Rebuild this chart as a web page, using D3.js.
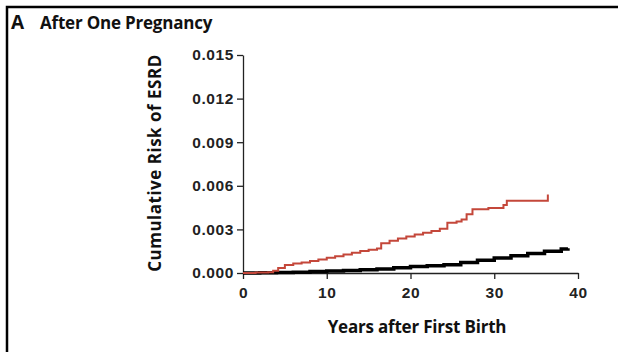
<!DOCTYPE html>
<html>
<head>
<meta charset="utf-8">
<script src="https://cdn.jsdelivr.net/npm/d3@7"></script>
<style>
  body { margin: 0; background: #fff; }
  svg { display: block; font-family: "Open Sans", Lato, sans-serif; }
  .tick text { font-size: 15.5px; font-weight: 600; fill: #222; letter-spacing: 0.6px; }
  .axis path, .axis line { stroke: #222; stroke-width: 1.3; }
</style>
</head>
<body>
<svg id="chart"></svg>
<script>
// tick labels
const yTicks = [0, 0.003, 0.006, 0.009, 0.012, 0.015];
const xTicks = [0, 10, 20, 30, 40];

// cumulative risk, one-pregnancy women (step curve, red)
const onePregYears = [0, 1.5, 3, 3.6, 4.2, 5, 6, 7, 8, 9, 10, 11, 12, 13, 14, 15, 16, 16.5, 17.5, 18.5, 19.5, 20.5, 21.5, 22.5, 23.5, 24.4, 25.5, 26.1, 26.7, 27.4, 29.3, 31.1, 31.5, 36.4];
const onePregRisk  = [0, 0.00003, 0.00006, 0.00015, 0.00035, 0.00055, 0.00065, 0.00073, 0.00082, 0.00093, 0.00105, 0.00115, 0.00127, 0.0014, 0.00152, 0.0016, 0.00168, 0.00204, 0.00222, 0.00238, 0.00252, 0.00265, 0.00277, 0.00289, 0.00305, 0.00345, 0.00355, 0.00368, 0.00404, 0.00438, 0.00448, 0.00468, 0.00497, 0.00541];

// cumulative risk, general population (black)
const refYears = [0, 2, 4, 6, 8, 10, 12, 14, 16, 18, 20, 22, 24, 26, 28, 30, 32, 34, 36, 38, 38.8];
const refRisk  = [0, 0.00001, 0.00003, 0.00006, 0.0001, 0.00014, 0.00018, 0.00022, 0.00027, 0.00036, 0.00044, 0.0005, 0.00057, 0.00072, 0.00088, 0.00104, 0.00119, 0.00134, 0.0015, 0.00165, 0.0017];

const W = 618, H = 352;
const svg = d3.select("#chart").attr("width", W).attr("height", H);

// panel frame (top + left edges only)
svg.append("path")
    .attr("d", `M7,${H} V7 H${W}`)
    .attr("fill", "none")
    .attr("stroke", "#000")
    .attr("stroke-width", 2.5);

svg.append("text")
    .attr("x", 11).attr("y", 29)
    .attr("font-size", 19).attr("font-weight", 700).attr("fill", "#111")
    .text("A");
svg.append("text")
    .attr("x", 40).attr("y", 29)
    .attr("font-size", 17).attr("font-weight", 700).attr("fill", "#111")
    .attr("letter-spacing", -0.2)
    .text("After One Pregnancy");

const x = d3.scaleLinear().domain([0, 40]).range([243, 578]);
const y = d3.scaleLinear().domain([0, 0.015]).range([273, 55]);

svg.append("g")
    .attr("class", "axis")
    .attr("transform", "translate(0,273)")
    .call(d3.axisBottom(x).tickValues(xTicks).tickSize(6).tickPadding(8).tickSizeOuter(0));

svg.append("g")
    .attr("class", "axis")
    .attr("transform", "translate(243,0)")
    .call(d3.axisLeft(y).tickValues(yTicks).tickFormat(d3.format(".3f")).tickSize(6).tickPadding(3).tickSizeOuter(0));

svg.append("text")
    .attr("x", 417).attr("y", 333)
    .attr("text-anchor", "middle")
    .attr("font-size", 17).attr("font-weight", 700).attr("fill", "#111")
    .attr("letter-spacing", -0.2)
    .text("Years after First Birth");

svg.append("text")
    .attr("transform", "translate(161,163) rotate(-90)")
    .attr("text-anchor", "middle")
    .attr("font-size", 17).attr("font-weight", 700).attr("fill", "#111")
    .attr("letter-spacing", 0.5)
    .text("Cumulative Risk of ESRD");

const step = d3.line()
    .x(d => x(d[0]))
    .y(d => y(d[1]))
    .curve(d3.curveStepAfter);

const refPts = d3.zip(refYears, refRisk);
svg.append("path")
    .attr("d", step(refPts))
    .attr("fill", "none")
    .attr("stroke", "#000")
    .attr("stroke-width", 3.5);

const onePts = d3.zip(onePregYears, onePregRisk);
// last point is a vertical jump at the final year
const last = onePts.length - 1;
const oneLine = onePts.slice(0, last).concat([[onePregYears[last], onePregRisk[last - 1]], onePts[last]]);
svg.append("path")
    .attr("d", step(oneLine))
    .attr("fill", "none")
    .attr("stroke", "#c4473a")
    .attr("stroke-width", 2);
</script>
</body>
</html>
